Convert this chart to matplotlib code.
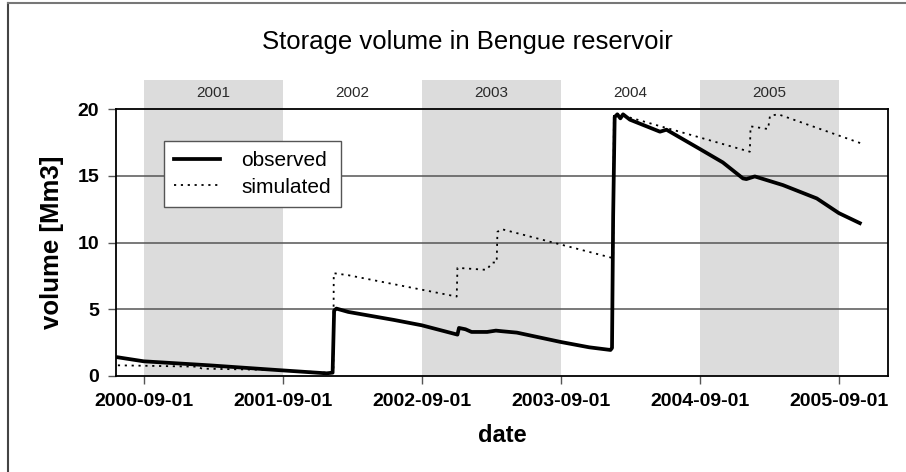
import matplotlib
matplotlib.use("Agg")
import matplotlib.pyplot as plt
import matplotlib.dates as mdates
import matplotlib.transforms as mtransforms
from matplotlib.lines import Line2D
import pandas as pd

plt.rcParams['font.family'] = ['Liberation Sans', 'DejaVu Sans']

obs_dates = ["2000-06-25", "2000-09-01", "2001-02-20", "2001-08-16", "2001-12-25",
             "2002-01-10", "2002-01-14", "2002-01-20", "2002-02-20", "2002-06-20",
             "2002-09-01", "2002-12-04", "2002-12-08", "2002-12-25", "2003-01-10",
             "2003-02-20", "2003-03-15", "2003-04-01", "2003-05-09", "2003-09-01",
             "2003-11-15", "2004-01-10", "2004-01-14", "2004-01-17", "2004-01-21",
             "2004-01-28", "2004-02-05", "2004-02-12", "2004-03-01", "2004-05-19",
             "2004-06-05", "2004-09-01", "2004-10-31", "2004-12-23", "2005-01-01",
             "2005-01-23", "2005-04-07", "2005-07-05", "2005-09-01", "2005-10-26"]
obs_values = [1.4, 1.1, 0.8, 0.45, 0.2,
              0.25, 4.9, 5.05, 4.8, 4.2,
              3.8, 3.1, 3.6, 3.5, 3.3,
              3.3, 3.4, 3.35, 3.25, 2.55,
              2.15, 1.95, 2.1, 12.0, 19.4,
              19.6, 19.3, 19.6, 19.2, 18.3,
              18.45, 17.0, 16.0, 14.8, 14.75,
              14.95, 14.3, 13.3, 12.2, 11.45]

sim_dates = ["2000-06-25", "2001-01-20", "2001-02-01", "2001-08-16", "2001-12-25",
             "2002-01-12", "2002-01-13", "2002-02-20", "2002-12-02", "2002-12-04",
             "2003-02-19", "2003-03-05", "2003-03-17", "2003-03-19", "2003-03-30",
             "2004-01-14", "2004-01-17", "2004-01-19", "2005-01-10", "2005-01-12",
             "2005-02-27", "2005-03-04", "2005-03-26", "2005-11-01"]
sim_values = [0.8, 0.7, 0.55, 0.45, 0.25,
              0.3, 7.7, 7.55, 5.95, 8.1,
              7.95, 8.5, 8.5, 10.8, 11.0,
              8.85, 8.9, 19.7, 16.8, 18.7,
              18.5, 19.5, 19.6, 17.4]

band_starts = ["2000-09-01", "2002-09-01", "2004-09-01"]
band_ends = ["2001-09-01", "2003-09-01", "2005-09-01"]
year_labels = ["2001", "2002", "2003", "2004", "2005"]
year_label_pos = ["2001-03-02", "2002-03-02", "2003-03-02", "2004-03-02", "2005-03-02"]
tick_dates = ["2000-09-01", "2001-09-01", "2002-09-01", "2003-09-01", "2004-09-01", "2005-09-01"]

fig = plt.figure(figsize=(9.06, 4.72), dpi=100)
ax = fig.add_axes([116/906, 1 - 376/472, (888-116)/906, (376-109)/472])

trans = mtransforms.blended_transform_factory(ax.transData, ax.transAxes)
for s, e in zip(band_starts, band_ends):
    r = plt.Rectangle((mdates.date2num(pd.Timestamp(s)), 0),
                      mdates.date2num(pd.Timestamp(e)) - mdates.date2num(pd.Timestamp(s)),
                      (376-80)/267, transform=trans, facecolor='#dcdcdc',
                      edgecolor='none', clip_on=False, zorder=0)
    ax.add_patch(r)
for lab, p in zip(year_labels, year_label_pos):
    ax.text(pd.Timestamp(p), (376-93)/267, lab, transform=trans, ha='center', va='center',
            fontsize=11, color='#2a2a2a')

for yv in [5, 10, 15]:
    ax.axhline(yv, color='#555555', lw=1.1, zorder=1)

ax.plot(pd.to_datetime(sim_dates), sim_values, color='black', lw=1.3,
        linestyle=(0, (1.2, 2.6)), zorder=3, label='simulated')
ax.plot(pd.to_datetime(obs_dates), obs_values, color='black', lw=2.7,
        solid_joinstyle='round', zorder=4, label='observed')

ax.set_xlim(pd.Timestamp("2000-06-20"), pd.Timestamp("2006-01-08"))
ax.set_ylim(0, 20)
ax.set_xticks(pd.to_datetime(tick_dates))
ax.set_xticklabels(tick_dates)
ax.set_yticks([0, 5, 10, 15, 20])
ax.tick_params(axis='both', direction='out', length=6, width=1, color='#555555',
               labelsize=14, pad=6)
for t in ax.get_xticklabels() + ax.get_yticklabels():
    t.set_fontweight('bold')
for sp in ax.spines.values():
    sp.set_color('black')
    sp.set_linewidth(1.3)
ax.set_facecolor('none')

ax.set_ylabel('volume [Mm3]', fontsize=18.5, fontweight='bold', labelpad=10)
ax.set_xlabel('date', fontsize=17, fontweight='bold', labelpad=10)

handles = [Line2D([], [], color='black', lw=2.7),
           Line2D([], [], color='black', lw=1.3, linestyle=(0, (1.2, 2.6)))]
leg = ax.legend(handles, ['observed', 'simulated'], loc='upper left',
                bbox_to_anchor=((164-116)/772, (376-141)/267), borderaxespad=0,
                fontsize=15, frameon=True, fancybox=False, edgecolor='#555555',
                framealpha=1, handlelength=2.2, handletextpad=1.0, borderpad=0.5,
                labelspacing=0.35)
leg.get_frame().set_linewidth(1.0)

fig.text(467/906, 1 - 42/472, 'Storage volume in Bengue reservoir', ha='center',
         va='center', fontsize=18.5)

fig.add_artist(Line2D([8/906, 8/906], [0, 1 - 3/472], transform=fig.transFigure,
                      color='#444444', lw=1.5))
fig.add_artist(Line2D([8/906, 1], [1 - 3/472, 1 - 3/472], transform=fig.transFigure,
                      color='#777777', lw=1.5))

fig.savefig('out.png', dpi=100)
